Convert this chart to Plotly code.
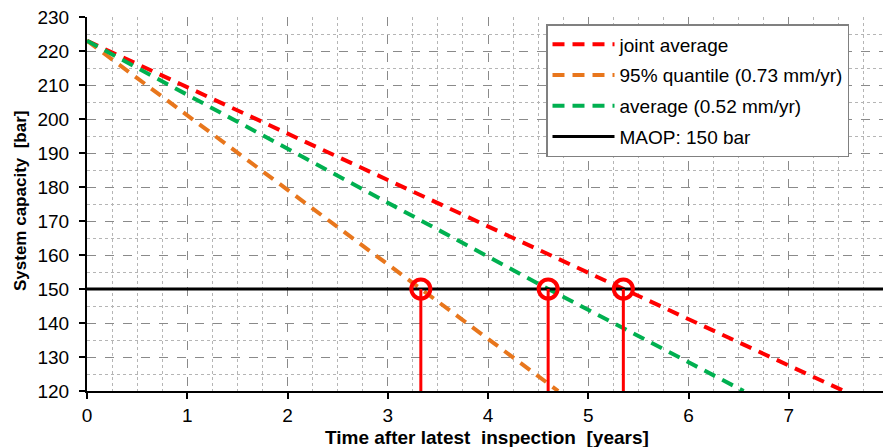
import plotly.graph_objects as go

# Data
joint_x = [0, 5.35, 7.55]
joint_y = [223, 150, 120]
q95_x = [0, 3.33, 4.7]
q95_y = [223, 150, 120]
avg_x = [0, 4.6, 6.55]
avg_y = [223, 150, 120]
maop_x = [0, 8]
maop_y = [150, 150]
cross_x = [3.33, 4.6, 5.35]
cross_y = [150, 150, 150]
floor_y = 120

names = ["joint average", "95% quantile (0.73 mm/yr)", "average (0.52 mm/yr)", "MAOP: 150 bar"]
x_title = "Time after latest  inspection  [years]"
y_title = "System capacity  [bar]"

fig = go.Figure()
dash = "12px,8px"
fig.add_trace(go.Scatter(x=joint_x, y=joint_y, mode="lines", name=names[0], legendgroup="a",
                         line=dict(color="#ff0000", width=4, dash=dash)))
fig.add_trace(go.Scatter(x=q95_x, y=q95_y, mode="lines", name=names[1], legendgroup="b",
                         line=dict(color="#e8761c", width=4, dash=dash)))
fig.add_trace(go.Scatter(x=avg_x, y=avg_y, mode="lines", name=names[2], legendgroup="c",
                         line=dict(color="#00b050", width=4, dash=dash)))
fig.add_trace(go.Scatter(x=maop_x, y=maop_y, mode="lines", name=names[3], legendgroup="d",
                         line=dict(color="black", width=3)))
# vertical red drop lines
for cx, cy in zip(cross_x, cross_y):
    fig.add_trace(go.Scatter(x=[cx, cx], y=[cy, floor_y], mode="lines", showlegend=False,
                             line=dict(color="#ff0000", width=3), hoverinfo="skip"))
fig.add_trace(go.Scatter(x=cross_x, y=cross_y, mode="markers", showlegend=False,
                         marker=dict(symbol="circle-open", size=19, color="#ff0000",
                                     line=dict(width=4, color="#ff0000"))))

# page has an 8px body offset; figure geometry compensates
OFF = 8
W, H = 891 - OFF, 447 - OFF
L, T = 87 - OFF, 17 - OFF
pw, ph = 802, 374
R, B = W - L - pw, H - T - ph


def px_x(p):  # page pixel x -> paper fraction
    return (p - OFF - L) / pw


def px_y(p):  # page pixel y -> paper fraction
    return (T + ph - (p - OFF)) / ph


fig.add_annotation(text="<b>" + x_title + "</b>", xref="paper", yref="paper",
                   x=px_x(487), y=px_y(437), xanchor="center", yanchor="middle",
                   showarrow=False, font=dict(size=19))
fig.add_annotation(text="<b>" + y_title + "</b>", xref="paper", yref="paper",
                   x=px_x(20), y=px_y(201), xanchor="center", yanchor="middle",
                   textangle=-90, showarrow=False, font=dict(size=17))

fig.update_layout(
    width=W, height=H,
    margin=dict(l=L, r=R, t=T, b=B),
    paper_bgcolor="white",
    plot_bgcolor="white",
    font=dict(family="Liberation Sans, Arial, sans-serif", color="black"),
    showlegend=True,
    legend=dict(x=px_x(546), y=px_y(24), xanchor="left", yanchor="top",
                bgcolor="white", bordercolor="#808080", borderwidth=1.5,
                font=dict(size=19), traceorder="grouped", tracegroupgap=3,
                itemwidth=62, entrywidth=388, entrywidthmode="pixels"),
    xaxis=dict(range=[0, 8], dtick=1, showline=True, linecolor="black", linewidth=2,
               ticks="outside", ticklen=6, tickcolor="black", tickwidth=1.5,
               tickfont=dict(size=19), automargin=False, ticklabelstandoff=0,
               ticklabeloverflow="allow",
               showgrid=True, gridcolor="#8a8a8a", griddash="dash", gridwidth=1.2,
               minor=dict(dtick=0.25, showgrid=True, gridcolor="#b5b5b5", griddash="dot", gridwidth=1),
               zeroline=False),
    yaxis=dict(range=[120, 230], dtick=10, showline=True, linecolor="black", linewidth=2,
               ticks="outside", ticklen=6, tickcolor="black", tickwidth=1.5,
               tickfont=dict(size=19), automargin=False, ticklabelstandoff=6,
               ticklabeloverflow="allow",
               showgrid=True, gridcolor="#8a8a8a", griddash="dash", gridwidth=1.2,
               minor=dict(dtick=5, showgrid=True, gridcolor="#b5b5b5", griddash="dot", gridwidth=1),
               zeroline=False),
)

fig.write_html("out.html")
